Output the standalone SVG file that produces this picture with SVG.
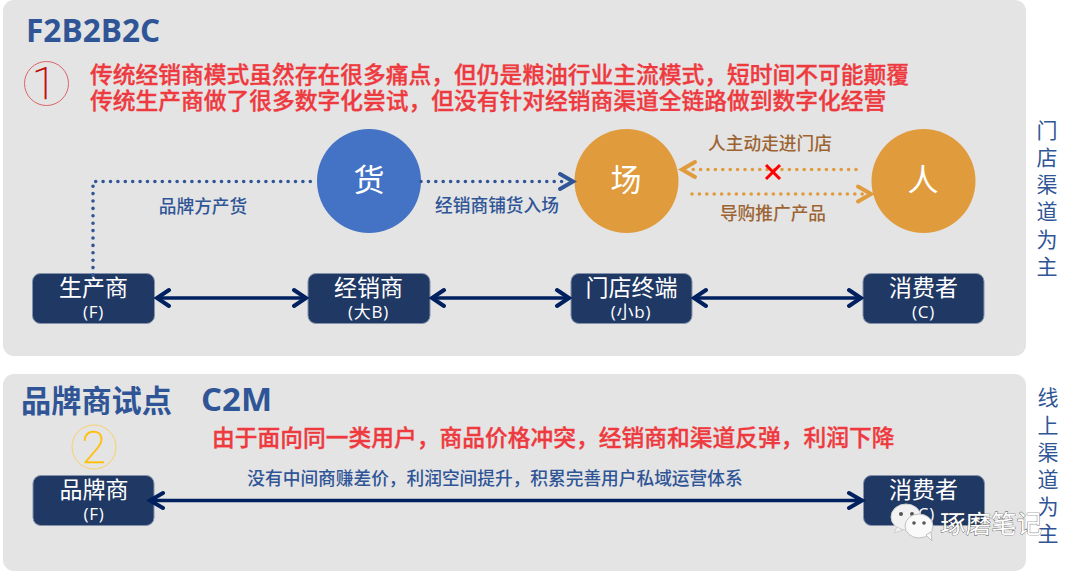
<svg xmlns="http://www.w3.org/2000/svg" width="1080" height="571" viewBox="0 0 1080 571">
<style>
text{font-family:"Open Sans","Noto Sans CJK SC",sans-serif}
.panel{fill:#e4e4e4}
.box{fill:#1f3864;stroke:#8492ab;stroke-width:1}
.nm{fill:#fff;font-size:23px;text-anchor:middle}
.sub{fill:#fff;font-size:17px;text-anchor:middle;letter-spacing:.8px}
.red{fill:#ee3a3f;font-size:22.75px;font-weight:500;stroke:#ee3a3f;stroke-width:.35}
.blue{fill:#2f5597;font-size:17.7px;font-weight:500;text-anchor:middle}
.brown{fill:#9c6433;font-size:17.7px;font-weight:500;text-anchor:middle}
.side{fill:#2f5597;font-size:21px;text-anchor:middle}
.big{fill:#fff;font-size:31px;text-anchor:middle}
.num{font-family:Roboto,sans-serif;font-size:44px;font-weight:100;text-anchor:middle;stroke-width:.6}
.navy{fill:none;stroke:#002060;stroke-width:3.5}
.dotb{fill:none;stroke:#2f5597;stroke-width:3.6;stroke-linecap:round;stroke-dasharray:0 7.4}
.doto{fill:none;stroke:#e09b3d;stroke-width:3.6;stroke-linecap:round;stroke-dasharray:0 7.4}
.head{fill:none;stroke-width:4;stroke-linecap:round;stroke-linejoin:miter}
.title{fill:#2f5597;font-weight:700}
</style>
<rect width="1080" height="571" fill="#fff"/>
<rect class="panel" x="3" y="0" width="1023" height="356" rx="11"/>
<rect class="panel" x="3" y="374" width="1023" height="197" rx="11"/>

<g id="titles">
<text class="title" x="26" y="42" style="font-size:31.6px">F2B2B2C</text>
<text class="title" x="21" y="412" style="font-size:30.2px">品牌商试点</text>
<text class="title" x="201" y="411" style="font-size:33px">C2M</text>
</g>
<g id="badge-1">
<circle cx="46.500" cy="83.500" r="22" fill="none" stroke="#d9656a" stroke-width="1"/>
<text class="num" x="44" y="99" fill="#c00000" stroke="#c00000">1</text>
</g>
<g id="badge-2">
<circle cx="94" cy="447" r="22" fill="none" stroke="#fbd066" stroke-width="1"/>
<text class="num" x="94" y="463" fill="#ffc000" stroke="#ffc000">2</text>
</g>
<g id="problems">
<text class="red"><tspan x="90" y="83">传统经销商模式虽然存在很多痛点，但仍是粮油行业主流模式，短时间不可能颠覆</tspan><tspan x="90" y="109">传统生产商做了很多数字化尝试，但没有针对经销商渠道全链路做到数字化经营</tspan></text>
<text class="red" x="212" y="446">由于面向同一类用户，商品价格冲突，经销商和渠道反弹，利润下降</text>
</g>

<g id="node-huo"><circle cx="369" cy="181" r="52" fill="#4472c4"/><text class="big" x="369" y="191">货</text></g>
<g id="node-chang"><circle cx="626.500" cy="181" r="52" fill="#e09b3d"/><text class="big" x="626" y="191">场</text></g>
<g id="node-ren"><circle cx="923.500" cy="181" r="52" fill="#e09b3d"/><text class="big" x="923" y="191">人</text></g>

<g id="labels">
<text class="blue" x="203" y="213">品牌方产货</text>
<text class="blue" x="497" y="212">经销商铺货入场</text>
<text class="brown" x="770" y="150">人主动走进门店</text>
<text class="brown" x="773" y="220">导购推广产品</text>
<text class="blue" x="495" y="485">没有中间商赚差价，利润空间提升，积累完善用户私域运营体系</text>
</g>

<g id="node-producer"><rect class="box" x="32.500" y="273.500" width="122" height="50" rx="8"/><text class="nm" x="93.500" y="296">生产商</text><text class="sub" x="93.500" y="318">(F)</text></g>
<g id="node-dealer"><rect class="box" x="308" y="273.500" width="122" height="50" rx="8"/><text class="nm" x="368.500" y="296">经销商</text><text class="sub" x="368.500" y="318">(大B)</text></g>
<g id="node-store"><rect class="box" x="571" y="273.500" width="121" height="50" rx="8"/><text class="nm" x="631.500" y="296">门店终端</text><text class="sub" x="631" y="318">(小b)</text></g>
<g id="node-consumer"><rect class="box" x="863" y="273.500" width="121" height="50" rx="8"/><text class="nm" x="923.500" y="296">消费者</text><text class="sub" x="923.500" y="318">(C)</text></g>
<g id="node-brand"><rect class="box" x="33" y="475.500" width="121" height="50" rx="8"/><text class="nm" x="94" y="498">品牌商</text><text class="sub" x="94" y="520">(F)</text></g>
<g id="node-consumer2"><rect class="box" x="863.500" y="475.500" width="121" height="50" rx="8"/><text class="nm" x="923.500" y="498">消费者</text><text class="sub" x="923.500" y="520">(C)</text></g>

<g id="connectors">
<path class="dotb" d="M93 275V181.500H316"/>
<path class="dotb" d="M421 181.500H566"/>
<path class="head" stroke="#2f5597" d="M560 174l13 7.500-13 7.500"/>
<path class="doto" d="M856 169.500H693"/>
<path class="head" stroke="#e09b3d" d="M695 162l-13 7.500 13 7.500"/>
<path class="doto" d="M692 194H866"/>
<path class="head" stroke="#e09b3d" d="M858 186.500l13 7.500-13 7.500"/>
<path stroke="#ff0000" stroke-width="3" fill="none" d="M766 165l14 14M780 165l-14 14"/>
<path class="navy" d="M157 298H305M694 298H860M432 298H568"/>
<path class="head" stroke="#002060" d="M169 290l-12 8 12 8M294 290l12 8-12 8M444 290l-12 8 12 8M557 290l12 8-12 8M706 290l-12 8 12 8M849 290l12 8-12 8"/>
<path class="navy" d="M150 500.500H861"/>
<path class="head" stroke="#002060" d="M163 493l-13 7.500 13 7.500M849 493l13 7.500-13 7.500"/>
</g>

<g id="side-notes">
<text class="side" x="1047" y="138">门</text><text class="side" x="1047" y="165">店</text><text class="side" x="1047" y="192">渠</text><text class="side" x="1047" y="219">道</text><text class="side" x="1047" y="247">为</text><text class="side" x="1047" y="274">主</text>
<text class="side" x="1048" y="405">线</text><text class="side" x="1048" y="433">上</text><text class="side" x="1048" y="460">渠</text><text class="side" x="1048" y="487">道</text><text class="side" x="1048" y="514">为</text><text class="side" x="1048" y="541">主</text>
</g>

<g id="watermark">
<ellipse cx="906" cy="517" rx="15" ry="13" fill="#f2f2f2" stroke="#d0d0d0"/>
<path d="M897 527l-3 6 9-3z" fill="#f2f2f2" stroke="#d0d0d0"/>
<circle cx="901" cy="514" r="2" fill="#555"/><circle cx="912" cy="514" r="2" fill="#555"/>
<ellipse cx="919" cy="526" rx="14" ry="12" fill="#fafafa" stroke="#c0c0c0"/>
<path d="M926 535l6 6-1-9z" fill="#fafafa" stroke="#c0c0c0"/>
<circle cx="914" cy="523" r="1.800" fill="#555"/><circle cx="924" cy="523" r="1.800" fill="#555"/>
<text x="940" y="533" style="font-size:25.500px" fill="#fff" stroke="#444" stroke-width="0.700" paint-order="stroke">琢磨笔记</text>
</g>
</svg>
